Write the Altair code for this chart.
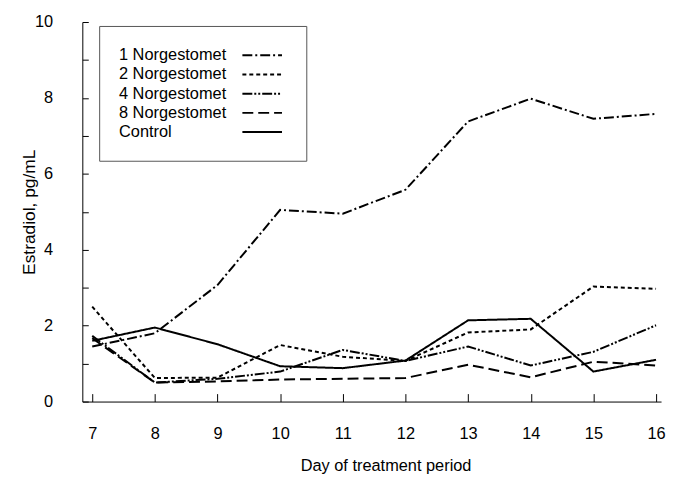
import altair as alt
import pandas as pd

days = [7, 8, 9, 10, 11, 12, 13, 14, 15, 16]
series_names = ["1 Norgestomet", "2 Norgestomet", "4 Norgestomet", "8 Norgestomet", "Control"]
norg1 = [1.45, 1.80, 3.07, 5.05, 4.95, 5.58, 7.38, 7.98, 7.45, 7.58]
norg2 = [2.50, 0.62, 0.63, 1.49, 1.18, 1.07, 1.82, 1.90, 3.03, 2.97]
norg4 = [1.73, 0.50, 0.60, 0.79, 1.36, 1.07, 1.45, 0.95, 1.31, 2.01]
norg8 = [1.67, 0.50, 0.53, 0.58, 0.60, 0.62, 0.97, 0.64, 1.05, 0.95]
control = [1.60, 1.95, 1.51, 0.93, 0.88, 1.08, 2.14, 2.18, 0.79, 1.10]
y_tick_values = [0, 1, 2, 3, 4, 5, 6, 7, 8, 9, 10]
y_label_values = [0, 2, 4, 6, 8, 10]

rows = []
for name, vals in zip(series_names, [norg1, norg2, norg4, norg8, control]):
    for d, v in zip(days, vals):
        rows.append({"day": d, "value": v, "group": name})
df = pd.DataFrame(rows)

W, H = 584, 383
FONT = "Liberation Sans"
FS = 16.5

xscale = alt.Scale(domain=[6.842, 16.08], nice=False, zero=False)
yscale = alt.Scale(domain=[0, 10], nice=False, zero=True)

dash = alt.StrokeDash(
    "group:N",
    scale=alt.Scale(domain=series_names,
                    range=[[10, 3, 2, 3], [4, 3], [10, 2, 2, 2, 2, 2], [11, 5], [1, 0]]),
    legend=alt.Legend(
        title=None, orient="none", legendX=17, legendY=4,
        strokeColor="#555", padding=20, fillColor="white",
        labelFont=FONT, labelFontSize=FS, labelColor="black",
        symbolType="M-2.35,0H2.35", symbolSize=289, symbolStrokeWidth=2,
        symbolStrokeColor="black", symbolFillColor="transparent",
        symbolOffset=135, labelOffset={"expr": "-154"},
        rowPadding=1.4,
    ),
)

lines = alt.Chart(df).mark_line(color="black", strokeWidth=2).encode(
    x=alt.X("day:Q", scale=xscale,
            axis=alt.Axis(values=days, ticks=False, labelPadding=24, title="Day of treatment period",
                          titleX=306, titleY=57, titleBaseline="top", titleAlign="center",
                          labelFont=FONT, labelFontSize=FS, labelColor="black",
                          titleFont=FONT, titleFontSize=FS, titleFontWeight="normal", titleColor="black",
                          domainColor="black", domainWidth=1, grid=False)),
    y=alt.Y("value:Q", scale=yscale,
            axis=alt.Axis(values=y_label_values, ticks=False, labelPadding=30, title="Estradiol, pg/mL",
                          titleX=-53, titleY=H / 2, titleBaseline="middle", titleAngle=270,
                          labelFont=FONT, labelFontSize=FS, labelColor="black",
                          titleFont=FONT, titleFontSize=17.5, titleFontWeight="normal", titleColor="black",
                          domainColor="black", domainWidth=1, grid=False)),
    strokeDash=dash,
)

ticks = alt.Chart(df).mark_point(opacity=0).encode(
    x=alt.X("day:Q", scale=xscale,
            axis=alt.Axis(orient="top", offset=-H, values=days, labels=False, domain=False,
                          tickSize=8, tickColor="black", tickWidth=1, title=None, grid=False)),
    y=alt.Y("value:Q", scale=yscale,
            axis=alt.Axis(orient="right", offset=-W, values=y_tick_values, labels=False, domain=False,
                          tickSize=6, tickColor="black", tickWidth=1, title=None, grid=False)),
)

chart = alt.layer(lines, ticks).resolve_axis(x="independent", y="independent").properties(
    width=W, height=H, padding={"left": 13, "top": 4, "right": 2, "bottom": 0}
).configure_view(stroke=None)

chart.save("out.html", embed_options={"renderer": "svg", "actions": False})
